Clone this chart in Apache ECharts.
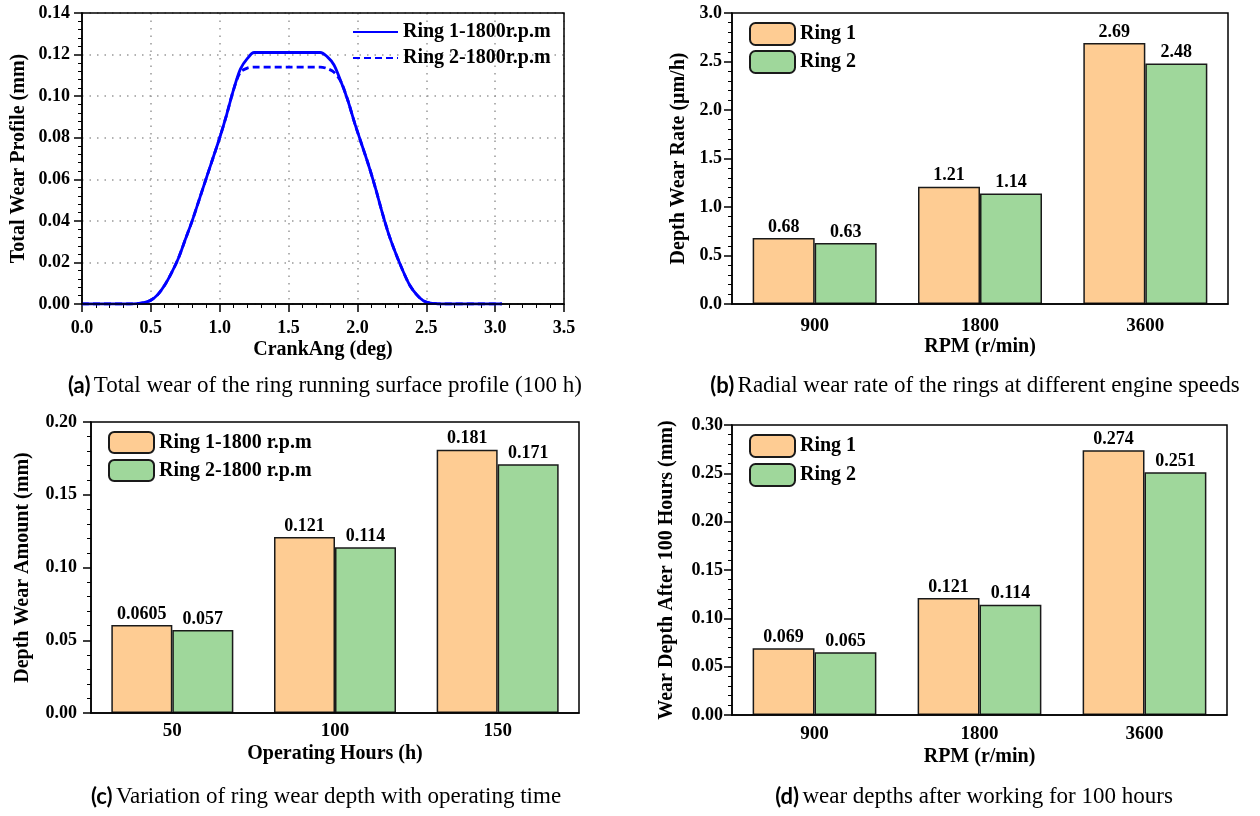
<!DOCTYPE html>
<html><head><meta charset="utf-8">
<script src="https://cdn.jsdelivr.net/npm/echarts@6/dist/echarts.min.js"></script>
<style>html,body{margin:0;padding:0;background:#fff}#c{width:1260px;height:816px}</style>
</head><body><div id="c"></div>
<script>
// ---- Data ----
const crankAng = [0, 0.35, 0.4, 0.45, 0.5, 0.55, 0.6, 0.65, 0.7, 0.75, 0.8, 0.85, 0.9, 0.95, 1.0, 1.05, 1.1, 1.15, 1.2, 1.25, 1.5, 1.73, 1.78, 1.83, 1.88, 1.93, 1.98, 2.03, 2.08, 2.13, 2.18, 2.23, 2.28, 2.33, 2.38, 2.43, 2.48, 2.53, 2.58, 2.63, 3.05];
const ring1Profile = [0, 0, 0.0002, 0.0007, 0.0018, 0.0045, 0.009, 0.015, 0.022, 0.031, 0.040, 0.050, 0.060, 0.070, 0.080, 0.091, 0.103, 0.113, 0.118, 0.121, 0.121, 0.121, 0.119, 0.115, 0.107, 0.098, 0.087, 0.077, 0.067, 0.056, 0.044, 0.033, 0.024, 0.016, 0.009, 0.0045, 0.0015, 0.0004, 0.0001, 0, 0];
const ring2Profile = [0, 0, 0.0002, 0.0007, 0.0018, 0.0045, 0.009, 0.015, 0.022, 0.031, 0.040, 0.050, 0.060, 0.070, 0.080, 0.091, 0.103, 0.1115, 0.1135, 0.114, 0.114, 0.114, 0.1133, 0.1115, 0.107, 0.098, 0.087, 0.077, 0.067, 0.056, 0.044, 0.033, 0.024, 0.016, 0.009, 0.0045, 0.0015, 0.0004, 0.0001, 0, 0];

const rpmCats = ['900', '1800', '3600'];
const rateRing1 = [0.68, 1.21, 2.69];
const rateRing2 = [0.63, 1.14, 2.48];

const hourCats = ['50', '100', '150'];
const amountRing1 = [0.0605, 0.121, 0.181];
const amountRing2 = [0.057, 0.114, 0.171];

const depthRing1 = [0.069, 0.121, 0.274];
const depthRing2 = [0.065, 0.114, 0.251];

// ---- Styles ----
const SERIF = 'Liberation Serif';
const ORANGE = '#FECC93';
const GREEN = '#9FD79B';
const BLUE = '#0000FF';

const grids = [
  {left: 82, top: 13, width: 482, height: 291},
  {left: 732, top: 13, width: 496, height: 291},
  {left: 91, top: 422, width: 488, height: 291},
  {left: 732, top: 425, width: 495, height: 290}
];

function yAx(gi, min, max, interval, dec, name, gap, margin, grid) {
  return {
    gridIndex: gi, type: 'value', min: min, max: max, interval: interval,
    name: name, nameLocation: 'middle', nameGap: gap,
    nameTextStyle: {fontFamily: SERIF, fontWeight: 'bold', fontSize: 20, color: '#000'},
    axisLine: {show: true, lineStyle: {color: '#000', width: 1.5}},
    axisTick: {show: true, inside: false, length: 8, lineStyle: {color: '#000', width: 1.5}},
    minorTick: {show: true, splitNumber: 5, length: 4, lineStyle: {color: '#000', width: 1}},
    axisLabel: {fontFamily: SERIF, fontWeight: 'bold', fontSize: 18, color: '#000', margin: margin,
      formatter: v => v.toFixed(dec)},
    splitLine: grid ? {show: true, lineStyle: {color: '#999', width: 1.5, type: [1.5, 6]}} : {show: false}
  };
}
function catAx(gi, cats, name, gap, margin) {
  return {
    gridIndex: gi, type: 'category', data: cats,
    name: name, nameLocation: 'middle', nameGap: gap,
    nameTextStyle: {fontFamily: SERIF, fontWeight: 'bold', fontSize: 20, color: '#000'},
    axisLine: {show: true, lineStyle: {color: '#000', width: 1.5}},
    axisTick: {show: false},
    axisLabel: {fontFamily: SERIF, fontWeight: 'bold', fontSize: 19, color: '#000', margin: margin},
    splitLine: {show: false}
  };
}
function barSeries(name, data, color, ai) {
  return {
    type: 'bar', name: name, data: data, xAxisIndex: ai, yAxisIndex: ai,
    barGap: '0%', barCategoryGap: '25%',
    itemStyle: {color: color, borderColor: '#1a1a1a', borderWidth: 1.5},
    label: {show: true, position: 'top', distance: 2, fontFamily: SERIF, fontWeight: 'bold', fontSize: 18, color: '#000'}
  };
}
function legendAt(names, left, top, h, gap, hideSymbol) {
  const l = {
    data: names, left: left, top: top, orient: 'vertical', padding: 0,
    itemWidth: 45, itemHeight: h, itemGap: gap, selectedMode: false,
    textStyle: {fontFamily: SERIF, fontWeight: 'bold', fontSize: 20, color: '#000', lineHeight: 22}
  };
  if (hideSymbol) l.itemStyle = {opacity: 0};
  return l;
}
function caption(x, y, tag, text) {
  return {
    type: 'text', x: x, y: y,
    style: {
      text: '{b|' + tag + '} {n|' + text + '}', textAlign: 'center', textVerticalAlign: 'middle',
      rich: {
        b: {fontFamily: 'Lato', fontWeight: 'bold', fontSize: 22, color: '#000'},
        n: {fontFamily: SERIF, fontSize: 23, color: '#000'}
      }
    }
  };
}
function frame(g) {
  return {
    type: 'rect', z: 100, silent: true,
    shape: {x: g.left, y: g.top, width: g.width, height: g.height},
    style: {fill: null, stroke: '#000', lineWidth: 1.5}
  };
}

const gridStyle = {show: false, containLabel: false};

const option = {
  animation: false,
  backgroundColor: '#fff',
  grid: grids.map(g => Object.assign({}, g, gridStyle)),
  xAxis: [
    {
      gridIndex: 0, type: 'value', min: 0, max: 3.5, interval: 0.5,
      name: 'CrankAng (deg)', nameLocation: 'middle', nameGap: 36,
      nameTextStyle: {fontFamily: SERIF, fontWeight: 'bold', fontSize: 20, color: '#000'},
      axisLine: {show: true, lineStyle: {color: '#000', width: 1.5}},
      axisTick: {show: true, inside: false, length: 8, lineStyle: {color: '#000', width: 1.5}},
      minorTick: {show: true, splitNumber: 5, length: 4, lineStyle: {color: '#000', width: 1}},
      axisLabel: {fontFamily: SERIF, fontWeight: 'bold', fontSize: 18, color: '#000', margin: 15,
        formatter: v => v.toFixed(1)},
      splitLine: {show: true, lineStyle: {color: '#999', width: 1.5, type: [1.5, 6]}}
    },
    catAx(1, rpmCats, 'RPM (r/min)', 33, 13),
    catAx(2, hourCats, 'Operating Hours (h)', 31, 9),
    catAx(3, rpmCats, 'RPM (r/min)', 32, 10)
  ],
  yAxis: [
    yAx(0, 0, 0.14, 0.02, 2, 'Total Wear Profile (mm)', 53, 12, true),
    yAx(1, 0, 3.0, 0.5, 1, 'Depth Wear Rate (\u03bcm/h)', 43, 10, false),
    yAx(2, 0, 0.20, 0.05, 2, 'Depth Wear Amount (mm)', 58, 14, false),
    yAx(3, 0, 0.30, 0.05, 2, 'Wear Depth After 100 Hours (mm)', 55, 9, false)
  ],
  legend: [
    legendAt(['Ring 1-1800r.p.m', 'Ring 2-1800r.p.m'], 352, 21, 14, 4, true),
    legendAt(['Ring 1', 'Ring 2'], 749, 22, 22, 4, false),
    legendAt(['Ring 1-1800 r.p.m', 'Ring 2-1800 r.p.m'], 108, 431, 21, 5, false),
    legendAt(['Ring 1', 'Ring 2'], 749, 434, 22, 5, false)
  ],
  series: [
    {
      type: 'line', name: 'Ring 2-1800r.p.m', xAxisIndex: 0, yAxisIndex: 0,
      data: crankAng.map((x, i) => [x, ring2Profile[i]]),
      showSymbol: false, symbol: 'none', smooth: 0.3,
      lineStyle: {color: BLUE, width: 2.8, type: [7, 4]}, itemStyle: {color: BLUE}
    },
    {
      type: 'line', name: 'Ring 1-1800r.p.m', xAxisIndex: 0, yAxisIndex: 0,
      data: crankAng.map((x, i) => [x, ring1Profile[i]]),
      showSymbol: false, symbol: 'none', smooth: 0.3,
      lineStyle: {color: BLUE, width: 2.8, type: 'solid'}, itemStyle: {color: BLUE}
    },
    barSeries('Ring 1', rateRing1, ORANGE, 1),
    barSeries('Ring 2', rateRing2, GREEN, 1),
    barSeries('Ring 1-1800 r.p.m', amountRing1, ORANGE, 2),
    barSeries('Ring 2-1800 r.p.m', amountRing2, GREEN, 2),
    barSeries('Ring 1', depthRing1, ORANGE, 3),
    barSeries('Ring 2', depthRing2, GREEN, 3)
  ],
  graphic: grids.map(frame).concat([
    caption(325, 386, '(a)', 'Total wear of the ring running surface profile (100 h)'),
    caption(975, 386, '(b)', 'Radial wear rate of the rings at different engine speeds'),
    caption(326, 797, '(c)', 'Variation of ring wear depth with operating time'),
    caption(974, 797, '(d)', 'wear depths after working for 100 hours')
  ])
};

const chart = echarts.init(document.getElementById('c'), null, {renderer: 'canvas'});
chart.setOption(option);
</script></body></html>
